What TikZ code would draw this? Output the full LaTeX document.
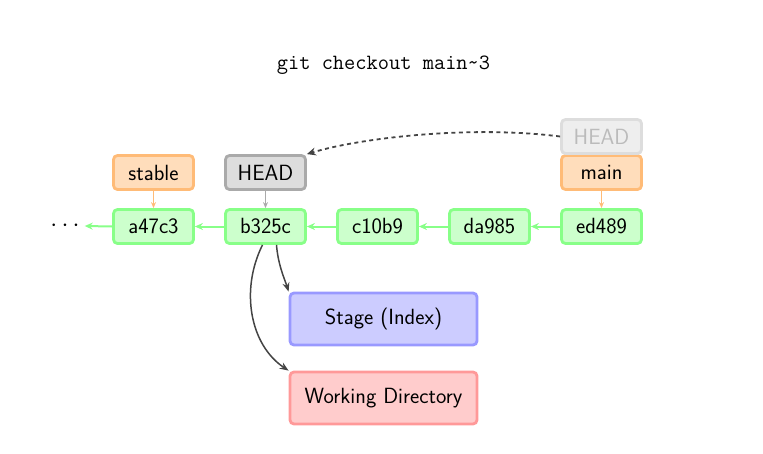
\documentclass[tikz,border=0pt]{standalone}
\usetikzlibrary{arrows.meta}
\definecolor{cgfill}{HTML}{CCFFCC}
\definecolor{cgdraw}{HTML}{88FF88}
\definecolor{cofill}{HTML}{FFDDBB}
\definecolor{codraw}{HTML}{FFBB77}
\definecolor{chfill}{HTML}{DDDDDD}
\definecolor{chdraw}{HTML}{AAAAAA}
\definecolor{cffill}{HTML}{EEEEEE}
\definecolor{cfdraw}{HTML}{DDDDDD}
\definecolor{cftext}{HTML}{BBBBBB}
\definecolor{csfill}{HTML}{CCCCFF}
\definecolor{csdraw}{HTML}{9999FF}
\definecolor{cwfill}{HTML}{FFCCCC}
\definecolor{cwdraw}{HTML}{FF9999}
\definecolor{carr}{HTML}{444444}
\tikzset{
  box/.style={rounded corners=4pt, line width=2.8pt, minimum width=80pt, minimum height=34pt, inner sep=0pt, font=\sffamily\fontsize{22}{24}\selectfont, text=black},
  commit/.style={box, fill=cgfill, draw=cgdraw},
  branch/.style={box, fill=cofill, draw=codraw},
  headbox/.style={box, fill=chfill, draw=chdraw},
  oldhead/.style={box, fill=cffill, draw=cfdraw, text=cftext},
  area/.style={box, minimum width=187pt, minimum height=52pt},
  parent/.style={-{Stealth[length=8pt,width=7pt]}, draw=cgdraw, line width=2pt},
  ptr/.style={-{Stealth[length=6pt,width=5pt]}, line width=1.7pt},
  flow/.style={-{Stealth[length=9pt,width=7pt]}, draw=carr, line width=1.5pt},
}
\begin{document}
\begin{tikzpicture}[x=1pt,y=-1pt]
\useasboundingbox (0,0) rectangle (763,453);
\node[font=\ttfamily\fontsize{21.8}{24}\selectfont] (title) at (383.5,65) {git checkout main\textasciitilde3};
\node[commit] (a) at (153.5,226.5) {a47c3};
\node[commit] (b) at (265.5,226.5) {b325c};
\node[commit] (c) at (377.5,226.5) {c10b9};
\node[commit] (d) at (489.5,226.5) {da985};
\node[commit] (e) at (601.5,226.5) {ed489};
\node[font=\fontsize{24}{26}\selectfont, inner sep=1pt] (dots) at (65,226) {$\cdots$};
\node[branch] (stable) at (153.5,172.5) {stable};
\node[headbox] (head) at (265.5,172.5) {HEAD};
\node[branch] (main) at (601.5,172.5) {main};
\node[oldhead] (oldh) at (601.5,136.5) {HEAD};
\node[area, fill=csfill, draw=csdraw] (stage) at (383.5,319) {Stage (Index)};
\node[area, fill=cwfill, draw=cwdraw] (wd) at (383.5,398) {Working Directory};
\draw[parent] (a.west) -- ([xshift=4pt]dots.east);
\draw[parent] (b.west) -- (a.east);
\draw[parent] (c.west) -- (b.east);
\draw[parent] (d.west) -- (c.east);
\draw[parent] (e.west) -- (d.east);
\draw[ptr, draw=codraw] (stable.south) -- (a.north);
\draw[ptr, draw=chdraw] (head.south) -- (b.north);
\draw[ptr, draw=codraw] (main.south) -- (e.north);
\draw[-{Stealth[length=9pt,width=8pt]}, draw=carr, line width=1.8pt, dash pattern=on 4pt off 3.5pt]
  (oldh.west) .. controls (470,125) and (360,138) .. (head.north east);
\draw[flow] ([xshift=11pt]b.south) .. controls (278,265) and (285,280) .. (stage.north west);
\draw[flow] ([xshift=-3pt]b.south) .. controls (240,290) and (250,345) .. (wd.north west);
\end{tikzpicture}
\end{document}
